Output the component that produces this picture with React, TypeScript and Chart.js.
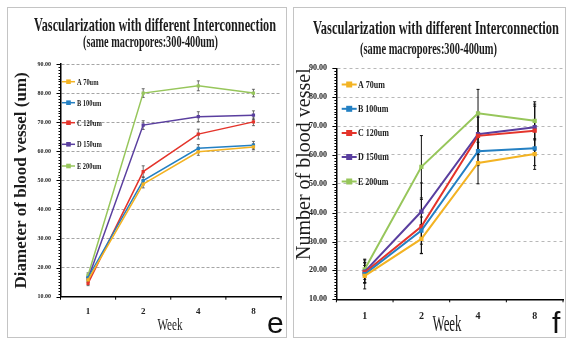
import React, { useEffect, useRef } from 'react';
import { Chart, registerables } from 'chart.js';

Chart.register(...registerables);

// ---------- data ----------
const weeks = ['1', '2', '4', '8'];
const seriesLabels = ['A 70um', 'B 100um', 'C 120um', 'D 150um', 'E 200um'];
const seriesColors = ['#f3b323', '#2480c3', '#e4342b', '#5a3f9f', '#97c65b'];
const yTickValues = [10, 20, 30, 40, 50, 60, 70, 80, 90];

// panel e: diameter of blood vessel (um)
const diameterA = [15.8, 48.7, 59.8, 61.5];
const diameterB = [16.6, 49.9, 61.0, 62.1];
const diameterC = [14.6, 53.0, 65.9, 70.1];
const diameterD = [16.2, 69.0, 71.9, 72.4];
const diameterE = [17.4, 80.0, 82.5, 80.0];
const diameterErrA = [0.8, 1.3, 1.2, 1.0];
const diameterErrB = [0.8, 1.3, 1.3, 1.3];
const diameterErrC = [0.8, 2.0, 1.7, 1.3];
const diameterErrD = [0.8, 1.5, 1.7, 1.5];
const diameterErrE = [0.8, 1.5, 1.7, 1.3];

// panel f: number of blood vessel
const numberA = [18.1, 30.9, 57.2, 60.3];
const numberB = [18.7, 33.8, 61.3, 62.3];
const numberC = [19.3, 35.2, 66.6, 68.4];
const numberD = [19.6, 40.4, 67.2, 69.6];
const numberE = [20.4, 55.9, 74.4, 71.8];
const numberErrA = [4.5, 5.0, 7.2, 5.3];
const numberErrB = [3.0, 4.7, 5.0, 6.0];
const numberErrC = [3.5, 9.4, 6.5, 8.5];
const numberErrD = [4.0, 9.9, 7.0, 8.0];
const numberErrE = [3.5, 10.8, 8.3, 6.6];

const titleLine1 = 'Vascularization with different Interconnection';
const titleLine2 = '(same macropores:300-400um)';
const xTitle = 'Week';

type TextSpec = { text: string; x: number; y: number; font: string; width?: number; sx?: number; align?: 'left' | 'center'; color?: string };

type PanelCfg = {
  left: number; w: number; h: number;
  padTop: number; padRight: number; yWidth: number; xHeight: number;
  values: number[][]; errors: number[][];
  yTitle: string; yTitleFont: any; yTitlePad: number; yTitleAlign: 'center' | 'end';
  yTickFont: any; yTickPad: number; xTickFont: any; xTickPad: number;
  lineWidth: number; pointRadius: number;
  gridColor: string; gridDash: number[];
  errColor: string; errWidth: number; cap: number;
  legendX0: number; legendX1: number; legendTextX: number; legendRows: number[]; legendFont: string; legendSx: number;
  texts: TextSpec[];
  letter: TextSpec;
};

function drawText(ctx: CanvasRenderingContext2D, s: TextSpec) {
  ctx.save();
  ctx.font = s.font;
  ctx.fillStyle = s.color || '#1c1c1c';
  ctx.textBaseline = 'alphabetic';
  ctx.textAlign = 'left';
  const w = ctx.measureText(s.text).width;
  const sx = s.width ? s.width / w : (s.sx ?? 1);
  const left = s.align === 'left' ? s.x : s.x - (w * sx) / 2;
  ctx.translate(left, s.y);
  ctx.scale(sx, 1);
  ctx.fillText(s.text, 0, 0);
  ctx.restore();
}

function makePlugin(p: PanelCfg) {
  return {
    id: 'decor',
    beforeDatasetsDraw(chart: any) {
      const ctx: CanvasRenderingContext2D = chart.ctx;
      const xs = chart.scales.x;
      const ys = chart.scales.y;
      ctx.save();
      ctx.strokeStyle = p.errColor;
      ctx.lineWidth = p.errWidth;
      p.values.forEach((vals, i) => {
        vals.forEach((v, j) => {
          const e = p.errors[i][j];
          const x = xs.getPixelForValue(j);
          const y1 = ys.getPixelForValue(v + e);
          const y2 = ys.getPixelForValue(v - e);
          ctx.beginPath();
          ctx.moveTo(x, y1); ctx.lineTo(x, y2);
          ctx.moveTo(x - p.cap, y1); ctx.lineTo(x + p.cap, y1);
          ctx.moveTo(x - p.cap, y2); ctx.lineTo(x + p.cap, y2);
          ctx.stroke();
        });
      });
      ctx.restore();
    },
    afterDraw(chart: any) {
      const ctx: CanvasRenderingContext2D = chart.ctx;
      const ca = chart.chartArea;
      const ys = chart.scales.y;
      ctx.save();
      ctx.strokeStyle = '#000';
      ctx.lineWidth = 1;
      // y axis ticks (major + minor)
      for (let v = yTickValues[0]; v <= yTickValues[yTickValues.length - 1]; v += 1) {
        const y = Math.round(ys.getPixelForValue(v)) + 0.5;
        const len = v % 10 === 0 ? 4 : 2;
        ctx.beginPath();
        ctx.moveTo(ca.left, y); ctx.lineTo(ca.left - len, y);
        ctx.stroke();
      }
      // x axis ticks at category boundaries
      const n = weeks.length;
      for (let k = 0; k <= n; k++) {
        const x = ca.left + (k * (ca.right - ca.left)) / n;
        ctx.beginPath();
        ctx.moveTo(x, ca.bottom); ctx.lineTo(x, ca.bottom + 3);
        ctx.stroke();
      }
      ctx.restore();

      // legend inside plot
      seriesLabels.forEach((label, i) => {
        const y = p.legendRows[i];
        ctx.save();
        ctx.strokeStyle = seriesColors[i];
        ctx.fillStyle = seriesColors[i];
        ctx.lineWidth = p.lineWidth;
        ctx.beginPath();
        ctx.moveTo(p.legendX0, y); ctx.lineTo(p.legendX1, y);
        ctx.stroke();
        const mx = (p.legendX0 + p.legendX1) / 2;
        const r = p.pointRadius;
        ctx.fillRect(mx - r, y - r, 2 * r, 2 * r);
        ctx.restore();
        drawText(ctx, { text: label, x: p.legendTextX, y: y + 3, font: p.legendFont, sx: p.legendSx, align: 'left' });
      });

      p.texts.forEach((t) => drawText(ctx, t));
      drawText(ctx, p.letter);
    },
  };
}

function buildConfig(p: PanelCfg): any {
  return {
    type: 'line',
    data: {
      labels: weeks,
      datasets: p.values.map((vals, i) => ({
        label: seriesLabels[i],
        data: vals,
        borderColor: seriesColors[i],
        backgroundColor: seriesColors[i],
        borderWidth: p.lineWidth,
        pointStyle: 'rect',
        pointRadius: p.pointRadius,
        pointBorderWidth: 0,
        tension: 0,
      })),
    },
    options: {
      responsive: false,
      animation: false,
      events: [],
      layout: { padding: { top: p.padTop, right: p.padRight, left: 0, bottom: 0 } },
      plugins: { legend: { display: false }, title: { display: false }, tooltip: { enabled: false } },
      scales: {
        x: {
          type: 'category',
          offset: true,
          grid: { display: false, drawTicks: false },
          border: { display: true, color: '#000', width: 1.5 },
          ticks: { font: p.xTickFont, color: '#222', padding: p.xTickPad, autoSkip: false, maxRotation: 0 },
          afterFit: (s: any) => { s.height = p.xHeight; },
        },
        y: {
          min: yTickValues[0],
          max: yTickValues[yTickValues.length - 1],
          afterBuildTicks: (s: any) => { s.ticks = yTickValues.map((v) => ({ value: v })); },
          grid: { color: p.gridColor, lineWidth: 0.8, drawTicks: false },
          border: { display: true, color: '#000', width: 1.5, dash: p.gridDash },
          ticks: { font: p.yTickFont, color: '#222', padding: p.yTickPad, callback: (v: any) => Number(v).toFixed(2) },
          title: { display: true, text: p.yTitle, font: p.yTitleFont, color: '#1c1c1c', padding: { top: p.yTitlePad, bottom: 0 }, align: p.yTitleAlign },
          afterFit: (s: any) => { s.width = p.yWidth; },
        },
      },
    },
    plugins: [makePlugin(p)],
  };
}

const serif = "'Liberation Serif', 'Times New Roman', serif";

const panelE: PanelCfg = {
  left: 0, w: 290, h: 339,
  padTop: 64, padRight: 9, yWidth: 60.5, xHeight: 42.3,
  values: [diameterA, diameterB, diameterC, diameterD, diameterE],
  errors: [diameterErrA, diameterErrB, diameterErrC, diameterErrD, diameterErrE],
  yTitle: 'Diameter of blood vessel (um)',
  yTitleFont: { family: serif, size: 17, weight: 'bold' }, yTitlePad: 11.5, yTitleAlign: 'center',
  yTickFont: { family: serif, size: 6, weight: 'bold' }, yTickPad: 9.5,
  xTickFont: { family: serif, size: 9, weight: 'bold' }, xTickPad: 10,
  lineWidth: 1.5, pointRadius: 2.3,
  gridColor: '#8e8e8e', gridDash: [3, 2],
  errColor: '#4a4a4a', errWidth: 0.8, cap: 1.5,
  legendX0: 62, legendX1: 75, legendTextX: 77, legendRows: [81.7, 102.7, 122.7, 144.3, 166], legendFont: `bold 8px ${serif}`, legendSx: 0.8,
  texts: [
    { text: titleLine1, x: 155, y: 31, font: `bold 19px ${serif}`, width: 242 },
    { text: titleLine2, x: 150.5, y: 47, font: `bold 16px ${serif}`, width: 135 },
    { text: xTitle, x: 170, y: 330, font: `17px ${serif}`, width: 25 },
  ],
  letter: { text: 'e', x: 267, y: 333, font: "30px 'Liberation Sans', Arial, sans-serif", align: 'left', color: '#111' },
};

const panelF: PanelCfg = {
  left: 290, w: 277, h: 339,
  padTop: 68.3, padRight: 1.7, yWidth: 46.4, xHeight: 39.7,
  values: [numberA, numberB, numberC, numberD, numberE],
  errors: [numberErrA, numberErrB, numberErrC, numberErrD, numberErrE],
  yTitle: 'Number of blood vessel',
  yTitleFont: { family: serif, size: 20, weight: 'normal' }, yTitlePad: 2.5, yTitleAlign: 'end',
  yTickFont: { family: serif, size: 8, weight: 'bold' }, yTickPad: 9.5,
  xTickFont: { family: serif, size: 10, weight: 'bold' }, xTickPad: 11,
  lineWidth: 2, pointRadius: 3,
  gridColor: '#a6a6a6', gridDash: [3, 3],
  errColor: '#111', errWidth: 1, cap: 1.5,
  legendX0: 51.7, legendX1: 66.7, legendTextX: 68, legendRows: [84.5, 108.8, 133, 157, 181.5], legendFont: `bold 10px ${serif}`, legendSx: 0.8,
  texts: [
    { text: titleLine1, x: 146, y: 33.5, font: `bold 19px ${serif}`, width: 246 },
    { text: titleLine2, x: 138.5, y: 54, font: `bold 16px ${serif}`, width: 137 },
    { text: xTitle, x: 157, y: 331, font: `24px ${serif}`, width: 29 },
  ],
  letter: { text: 'f', x: 552, y: 333, font: "30px 'Liberation Sans', Arial, sans-serif", align: 'left', color: '#111' },
};
panelF.letter.x = 552 - 290;

function Panel({ cfg }: { cfg: PanelCfg }) {
  const ref = useRef<HTMLCanvasElement>(null);
  useEffect(() => {
    const chart = new Chart(ref.current as HTMLCanvasElement, buildConfig(cfg));
    return () => chart.destroy();
  }, [cfg]);
  return (
    <canvas
      ref={ref}
      width={cfg.w}
      height={cfg.h}
      style={{ position: 'absolute', left: cfg.left, top: 0, width: cfg.w, height: cfg.h, zIndex: 2 }}
    />
  );
}

export default function App() {
  return (
    <div style={{ position: 'fixed', left: 0, top: 0, width: 567, height: 339, background: '#ffffff', overflow: 'hidden' }}>
      <div style={{ position: 'absolute', left: 7, top: 7, width: 280, height: 331, boxSizing: 'border-box', border: '1px solid #c4c4c4', zIndex: 1 }} />
      <div style={{ position: 'absolute', left: 293, top: 7, width: 273, height: 331, boxSizing: 'border-box', border: '1px solid #c4c4c4', zIndex: 1 }} />
      <Panel cfg={panelE} />
      <Panel cfg={panelF} />
    </div>
  );
}
